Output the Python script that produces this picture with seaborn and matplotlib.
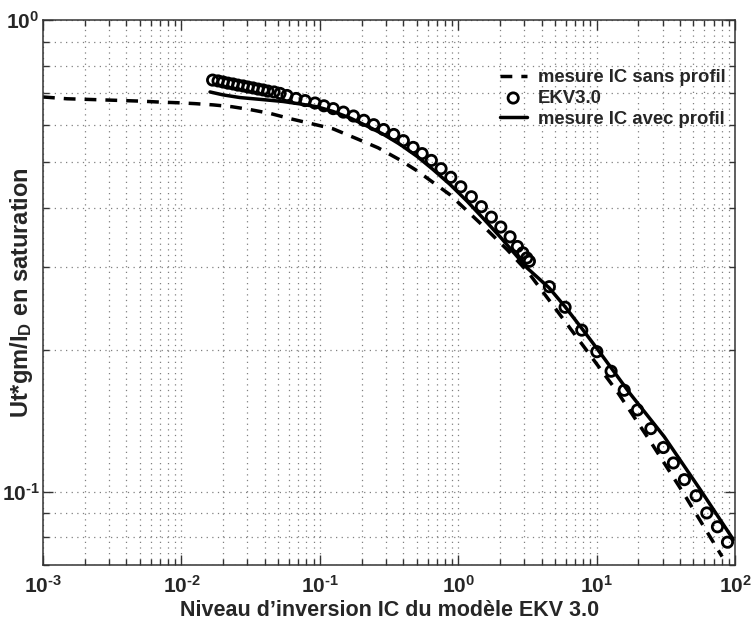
import numpy as np
import matplotlib
matplotlib.use("Agg")
import matplotlib.pyplot as plt
import matplotlib.ticker as mticker
import seaborn as sns

# valeurs (IC, Ut*gm/ID)
ic_sans_profil = [0.001, 0.00149, 0.00208, 0.00281, 0.00385, 0.00519, 0.0070, 0.00929,
                  0.01254, 0.0169, 0.0232, 0.0313, 0.0437, 0.0609, 0.0849, 0.1246, 0.1857,
                  0.2633, 0.3797, 0.504, 0.873, 1.511, 2.252, 3.193, 4.606, 7.97, 14.04,
                  24.3, 42.1, 80.5]
gm_sans_profil = [0.687, 0.681, 0.679, 0.677, 0.675, 0.673, 0.670, 0.668, 0.665, 0.661,
                  0.655, 0.646, 0.634, 0.618, 0.604, 0.588, 0.560, 0.536, 0.505, 0.479,
                  0.426, 0.366, 0.326, 0.292, 0.253, 0.204, 0.163, 0.128, 0.0995, 0.0728]

ic_ekv = [0.0168, 0.0184, 0.0200, 0.0217, 0.0236, 0.0256, 0.0279, 0.0303, 0.0329, 0.0358,
          0.0389, 0.0422, 0.0467, 0.0516, 0.0579, 0.0673, 0.0782, 0.0923, 0.107, 0.125,
          0.148, 0.175, 0.208, 0.245, 0.289, 0.342, 0.401, 0.472, 0.548, 0.639,
          0.751, 0.883, 1.043, 1.243, 1.469, 1.734, 2.028, 2.367, 2.673, 2.925,
          3.126, 3.264, 4.55, 5.91, 7.80, 10.02, 12.7, 15.8, 19.7, 24.6,
          30.3, 35.8, 43.0, 52.3, 62.4, 74.5, 88.0]
gm_ekv = [0.746, 0.743, 0.739, 0.735, 0.732, 0.728, 0.725, 0.721, 0.718, 0.714,
          0.711, 0.707, 0.704, 0.699, 0.692, 0.682, 0.675, 0.667, 0.658, 0.649,
          0.638, 0.626, 0.613, 0.600, 0.586, 0.572, 0.555, 0.537, 0.521, 0.504,
          0.484, 0.464, 0.443, 0.422, 0.402, 0.382, 0.364, 0.347, 0.331, 0.321,
          0.313, 0.308, 0.272, 0.246, 0.220, 0.198, 0.180, 0.164, 0.149, 0.136,
          0.124, 0.115, 0.106, 0.098, 0.0901, 0.0842, 0.0781]

ic_avec_profil = [0.0161, 0.0200, 0.0265, 0.0370, 0.0542, 0.0719, 0.0954, 0.1246, 0.1653,
                  0.2193, 0.2862, 0.3797, 0.504, 0.6575, 0.873, 1.158, 1.511, 2.005,
                  3.142, 4.53, 5.91, 7.84, 10.07, 17.43, 30.7, 55.9, 97.0]
gm_avec_profil = [0.704, 0.694, 0.685, 0.679, 0.672, 0.664, 0.655, 0.640, 0.620, 0.596,
                  0.573, 0.545, 0.514, 0.482, 0.448, 0.413, 0.380, 0.347, 0.298, 0.2705,
                  0.2466, 0.2215, 0.2009, 0.1613, 0.1308, 0.101, 0.0791]

labels = ['mesure IC sans profil', 'EKV3.0', 'mesure IC avec profil']

sns.set_style("ticks")
plt.rcParams['font.family'] = ['Liberation Sans', 'DejaVu Sans']
plt.rcParams['font.weight'] = 'bold'
plt.rcParams['mathtext.fontset'] = 'custom'
plt.rcParams['mathtext.rm'] = 'Liberation Sans:bold'
plt.rcParams['mathtext.bf'] = 'Liberation Sans:bold'
plt.rcParams['mathtext.it'] = 'Liberation Sans:bold'


def puissance(v, pos):
    e = int(round(np.log10(v)))
    if e < 0:
        return r'$\mathbf{10^{\text{-}%d}}$' % -e
    return r'$\mathbf{10^{%d}}$' % e


fig, ax = plt.subplots(figsize=(7.54, 6.28), dpi=100)
fig.subplots_adjust(left=0.057, right=0.975, top=0.968, bottom=0.100)

sns.lineplot(x=ic_sans_profil, y=gm_sans_profil, ax=ax, color='k', linewidth=2.5,
             linestyle=(0, (3.4, 2.6)), sort=False, label=labels[0])
sns.scatterplot(x=ic_ekv, y=gm_ekv, ax=ax, marker='o', s=55, facecolors='none',
                edgecolors='k', linewidth=2.0, label=labels[1], zorder=3)
sns.lineplot(x=ic_avec_profil, y=gm_avec_profil, ax=ax, color='k', linewidth=2.5,
             sort=False, label=labels[2])

ax.set_xscale('log')
ax.set_yscale('log')
ax.set_xlim(1e-3, 1e2)
ax.set_ylim(0.0698, 1)

for axis in (ax.xaxis, ax.yaxis):
    axis.set_major_locator(mticker.LogLocator(base=10, numticks=12))
    axis.set_minor_locator(mticker.LogLocator(base=10, subs=np.arange(2, 10), numticks=12))
    axis.set_major_formatter(mticker.FuncFormatter(puissance))
    axis.set_minor_formatter(mticker.NullFormatter())

ax.tick_params(which='both', direction='in', top=True, right=True, width=1.0,
               color='0.2', labelsize=15)
ax.tick_params(which='major', length=7)
ax.tick_params(which='minor', length=4)
ax.tick_params(axis='x', which='major', pad=7)
ax.tick_params(axis='y', which='major', pad=2.5)

ax.grid(True, which='both', color='0.5', linewidth=0.9, linestyle=(0, (1, 3.5)))
for sp in ax.spines.values():
    sp.set_linewidth(1.1)
    sp.set_color('0.2')

ax.set_xlabel('Niveau d’inversion IC du modèle EKV 3.0', fontsize=15.5,
              fontweight='bold', labelpad=2)
ax.set_ylabel(r'Ut*gm/I$_\mathbf{D}$ en saturation', fontsize=17, fontweight='bold')
ax.yaxis.set_label_coords(-0.012, 0.5)

handles, lbls = ax.get_legend_handles_labels()
ax.legend(handles, lbls, loc='upper left', bbox_to_anchor=(0.66, 0.91),
          frameon=False, fontsize=13.3, handlelength=1.45, handletextpad=0.6,
          labelspacing=0.2, borderpad=0, borderaxespad=0, markerscale=1.0)

fig.savefig('out.png', dpi=100)
